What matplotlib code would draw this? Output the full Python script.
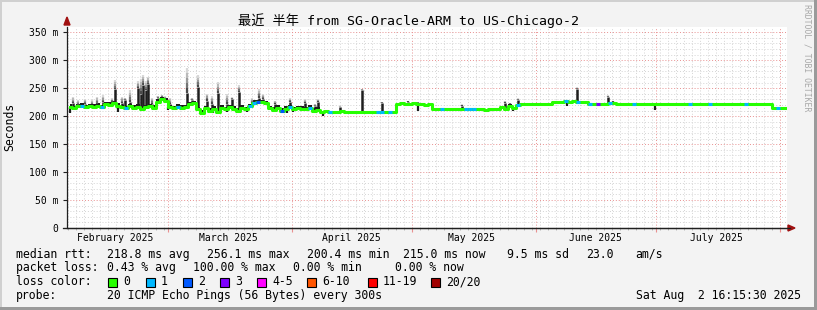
import numpy as np
import pandas as pd
import matplotlib
matplotlib.use('Agg')
import matplotlib.pyplot as plt
import matplotlib.dates as mdates
from matplotlib.patches import Rectangle, Polygon
from matplotlib.lines import Line2D

plt.rcParams['font.family'] = ['DejaVu Sans Mono', 'Noto Sans CJK SC']

# ---- data ----
title = '最近 半年 from SG-Oracle-ARM to US-Chicago-2'
t_begin = pd.Timestamp('2025-02-03 16:15:30')
t_end = pd.Timestamp('2025-08-02 16:15:30')
first_day = pd.Timestamp('2025-02-04')

# daily median rtt (ms), one value per day starting Feb 4
median_ms = [
    217, 214,
    218, 219, 216, 218, 217, 219, 216,
    221, 220, 223, 219,
    216, 214, 218, 215, 217, 213, 216, 218, 215,
    226, 230, 228,
    216, 214, 217, 215, 216,
    221, 223,
    212, 206, 214, 210, 213, 208,
    215, 212, 216, 213, 210, 215, 212,
    218, 224, 225, 225, 223,
    214, 211, 215, 210, 213, 216, 212, 214, 213, 212, 215,
    210, 211,
    207, 209, 208, 207, 208, 209, 208, 207, 208, 207, 208, 207, 207, 208, 207, 208, 207, 208, 207,
    222, 223, 221, 222, 224, 222, 221, 220, 221,
    213, 213, 213, 213, 213, 213, 213,
    212, 213, 212, 213, 212, 212, 211, 212, 212, 213,
    216, 213, 219, 214, 220,
    221, 221, 221, 221, 221, 221, 221, 221,
    226, 226, 226, 227, 226, 227, 226, 226, 226,
    221, 221, 221, 221, 221,
    224, 223, 222, 222, 222, 222,
    222, 222, 222, 222, 222, 222, 222, 222, 222, 222, 222, 222, 222, 222, 222, 222, 222, 222,
    222, 222, 222, 222, 222, 222, 222, 222, 222, 222, 222, 222, 222, 222, 222, 222, 222,
    214, 214, 214, 214,
]

# days (index into median_ms) with lost pings
loss1_days = [3, 8, 14, 27, 45, 46, 55, 60, 65, 77, 78, 80, 93, 99, 100, 101, 112,
              124, 127, 130, 135, 141, 155, 160, 169, 177]
loss2_days = [47, 53]
loss3_days = [132]

# smoke spikes: day offset from Feb 4, dense smoke top, faint smoke top (ms)
spike_day = [1.2, 2.5, 4.2, 6.0, 7.2, 8.8, 11.0, 11.8, 13.5, 14.2, 15.5, 17.5, 18.2,
             18.8, 19.5, 20.0, 21.0, 22.5, 23.5, 24.2, 25.5, 29.8, 31.0, 32.5, 34.8,
             36.0, 37.5, 39.8, 41.0, 42.8, 46.0, 47.8, 48.8, 51.8, 55.5, 59.2, 61.8,
             62.5, 68.0, 73.5, 78.5, 85.0, 87.5, 98.5, 109.2, 110.5, 112.5, 127.2,
             135.0, 136.2]
spike_dark = [223, 220, 221, 221, 222, 225, 226, 248, 224, 229, 225, 250, 240,
              255, 246, 257, 222, 232, 234, 231, 222, 241, 229, 252, 228,
              222, 241, 222, 230, 243, 224, 232, 230, 222, 225, 223, 218,
              226, 216, 246, 224, 226, 224, 219, 224, 222, 229, 248,
              234, 226]
spike_top = [234, 229, 230, 229, 234, 237, 232, 264, 234, 233, 246, 262, 266,
             273, 262, 270, 233, 236, 238, 236, 232, 286, 233, 273, 240,
             236, 261, 239, 234, 255, 233, 249, 240, 228, 233, 231, 222,
             230, 218, 249, 226, 228, 226, 221, 227, 224, 232, 252,
             237, 228]

# smoke dips below the median: day offset, lowest ping (ms)
dip_day = [0.5, 12.5, 25.0, 33.0, 36.2, 39.8, 43.0, 44.8, 54.8, 56.2, 61.8, 63.8,
           87.5, 109.2, 111.2, 124.8, 146.8]
dip_low = [205, 208, 211, 204, 206, 207, 208, 208, 206, 208, 205, 201,
           210, 210, 210, 219, 211]

# jitter around the median: first day, last day, ms below, ms above
jitter = [(0, 62, 3.5, 4.5), (63, 81, 2.0, 2.0), (82, 112, 2.0, 2.0), (113, 179, 1.0, 1.0)]

loss_colors = ['#26ff00', '#00b8ff', '#0059ff', '#7e00ff', '#ff00ff', '#ff5500', '#ff0000', '#a10000']
loss_labels = ['0', '1', '2', '3', '4-5', '6-10', '11-19', '20/20']

month_labels = ['February 2025', 'March 2025', 'April 2025', 'May 2025', 'June 2025', 'July 2025']
month_label_dates = ['2025-02-15 18:00', '2025-03-15 22:00', '2025-04-15 18:00',
                     '2025-05-15 18:00', '2025-06-15 18:00', '2025-07-15 22:00']

# ---- figure ----
W, H = 817, 310
fig = plt.figure(figsize=(W / 100, H / 100), dpi=100, facecolor='#f3f3f3')


def fx(x):
    return x / W


def fy(y):
    return 1 - y / H


ax = fig.add_axes([fx(67), fy(228), fx(787) - fx(67), fy(26.7) - fy(228)])
ax.set_facecolor('white')

n = len(median_ms)
med = np.array(median_ms, dtype=float)
day_mid = mdates.date2num(first_day + pd.Timedelta(hours=12)) + np.arange(n)
day0 = mdates.date2num(first_day)

# jitter band (dense smoke around median)
lo = med.copy()
hi = med.copy()
for a, b, below, above in jitter:
    lo[a:b + 1] = med[a:b + 1] - below
    hi[a:b + 1] = med[a:b + 1] + above
ax.fill_between(day_mid, lo, hi, step='mid', color='#1e1e1e', lw=0, zorder=3)

# spikes: dense part then fading gray
sx = day0 + np.array(spike_day)
s_med = med[np.clip(np.floor(np.array(spike_day)).astype(int), 0, n - 1)]
s_dark = np.array(spike_dark, dtype=float)
s_top = np.array(spike_top, dtype=float)
grays = ['#4a4a4a', '#747474', '#9a9a9a', '#bababa', '#d8d8d8']
for k, g in enumerate(grays):
    a = s_dark + (s_top - s_dark) * k / len(grays)
    b = s_dark + (s_top - s_dark) * (k + 1) / len(grays)
    ax.vlines(sx, a, b, color=g, lw=1.6, zorder=3)
ax.vlines(sx, s_med, s_dark, color='#1e1e1e', lw=1.8, zorder=3)

# dips
dx = day0 + np.array(dip_day)
d_med = med[np.clip(np.floor(np.array(dip_day)).astype(int), 0, n - 1)]
ax.vlines(dx, np.array(dip_low), d_med, color='#1e1e1e', lw=1.6, zorder=3)

# median line coloured by loss
ax.step(day_mid, med, where='mid', color=loss_colors[0], lw=2.2, zorder=4)
for lvl, days in ((1, loss1_days), (2, loss2_days), (3, loss3_days)):
    for d in days:
        ax.hlines(med[d], day_mid[d] - 0.5, day_mid[d] + 0.5, color=loss_colors[lvl],
                  lw=2.2, zorder=5)

# axes / grid
ax.set_xlim(mdates.date2num(t_begin), mdates.date2num(t_end))
ax.set_ylim(0, 360)
ax.xaxis.set_major_locator(mdates.MonthLocator())
ax.xaxis.set_minor_locator(mdates.DayLocator(interval=2))
ax.xaxis.set_major_formatter(plt.NullFormatter())
ax.set_yticks([0, 50, 100, 150, 200, 250, 300, 350])
ax.set_yticklabels(['0', '50 m', '100 m', '150 m', '200 m', '250 m', '300 m', '350 m'])
ax.set_yticks(np.arange(10, 360, 10), minor=True)
ax.grid(which='minor', color='#d4d4d4', lw=0.7, ls=(0, (1, 2)), zorder=1)
ax.grid(which='major', color='#e89090', lw=0.7, ls=(0, (1, 2)), zorder=2)
ax.set_axisbelow(True)
for s in ('top', 'right'):
    ax.spines[s].set_visible(False)
for s in ('left', 'bottom'):
    ax.spines[s].set_color('#202020')
    ax.spines[s].set_linewidth(0.9)
ax.tick_params(axis='y', which='major', length=3, width=0.8, color='#202020', pad=3,
               labelsize=7.05)
ax.tick_params(axis='y', which='minor', length=0)
ax.tick_params(axis='x', which='major', length=3, width=0.8, color='#e89090')
ax.tick_params(axis='x', which='minor', length=1.5, width=0.6, color='#b0b0b0')

for lab, d in zip(month_labels, month_label_dates):
    ax.text(mdates.date2num(pd.Timestamp(d)), -17, lab, ha='center', va='center',
            fontsize=7.05, clip_on=False)

# arrows at axis ends
fig.add_artist(Line2D([fx(63), fx(790)], [fy(228), fy(228)], color='#202020', lw=0.9))
fig.add_artist(Polygon([[fx(67), fy(17)], [fx(64), fy(25)], [fx(70), fy(25)]],
                       closed=True, transform=fig.transFigure, color='#a01010'))
fig.add_artist(Polygon([[fx(795), fy(228)], [fx(788), fy(225)], [fx(788), fy(231)]],
                       closed=True, transform=fig.transFigure, color='#a01010'))

# title, axis label, watermark
fig.text(fx(408), fy(21), title, ha='center', va='center', fontsize=9.5)
fig.text(fx(10), fy(127), 'Seconds', rotation=90, ha='center', va='center', fontsize=8.3)
fig.text(fx(807), fy(58), 'RRDTOOL / TOBI OETIKER', rotation=-90, ha='center', va='center',
         fontsize=5.9, color='#a8a8a8')

# legend block
legend_rows = [
    (254.3, [('median rtt:', 16), ('218.8 ms avg', 107), ('256.1 ms max', 207),
             ('200.4 ms min', 307), ('215.0 ms now', 403), ('9.5 ms sd', 507),
             ('23.0', 586), ('am/s', 635)]),
    (267.7, [('packet loss:', 16), ('0.43 % avg', 107), ('100.00 % max', 193),
             ('0.00 % min', 293), ('0.00 % now', 395)]),
    (281.7, [('loss color:', 16)]),
    (295.7, [('probe:', 16), ('20 ICMP Echo Pings (56 Bytes) every 300s', 107)]),
]
for y, items in legend_rows:
    for txt, x in items:
        fig.text(fx(x), fy(y), txt, ha='left', va='center', fontsize=8.3)
fig.text(fx(801), fy(295.7), 'Sat Aug  2 16:15:30 2025', ha='right', va='center', fontsize=8.3)

box_x = [108, 146, 183, 220, 257, 307, 368, 431]
for bx, col, lab in zip(box_x, loss_colors, loss_labels):
    fig.add_artist(Rectangle((fx(bx), fy(287)), 9 / W, 9 / H, transform=fig.transFigure,
                             facecolor=col, edgecolor='black', lw=0.8))
    fig.text(fx(bx + 15), fy(281.7), lab, ha='left', va='center', fontsize=8.3)

# frame
fig.add_artist(Rectangle((0, fy(2)), 1, 2 / H, transform=fig.transFigure, color='#d0d0d0', lw=0))
fig.add_artist(Rectangle((0, 0), 2 / W, 1, transform=fig.transFigure, color='#d0d0d0', lw=0))
fig.add_artist(Rectangle((0, 0), 1, 3 / H, transform=fig.transFigure, color='#9a9a9a', lw=0))
fig.add_artist(Rectangle((fx(814), 0), 3 / W, 1, transform=fig.transFigure, color='#9a9a9a', lw=0))

fig.savefig('out.png', dpi=100, facecolor=fig.get_facecolor())
